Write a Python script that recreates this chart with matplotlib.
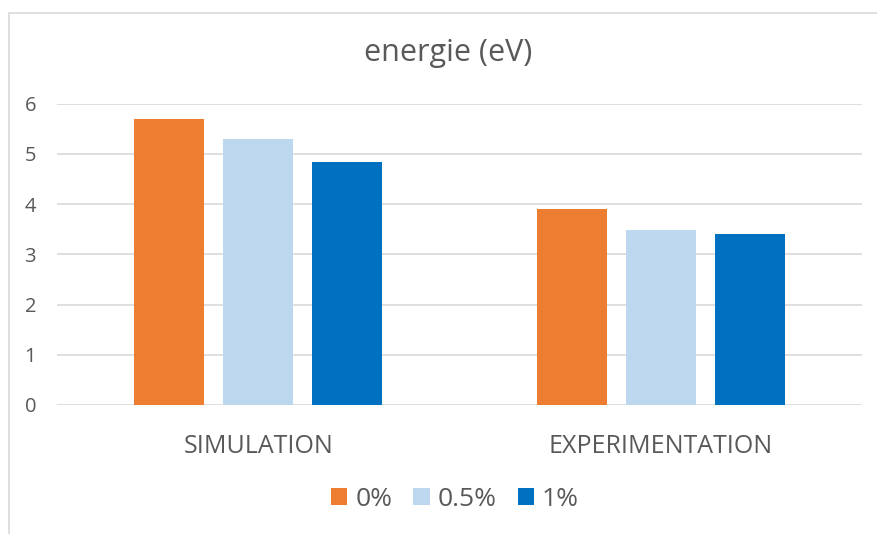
import numpy as np
import matplotlib.pyplot as plt
from matplotlib.patches import Rectangle

categories = ["SIMULATION", "EXPERIMENTATION"]
series_names = ["0%", "0.5%", "1%"]
values_0 = [5.7, 3.9]
values_05 = [5.3, 3.48]
values_1 = [4.83, 3.4]
yticks = [0, 1, 2, 3, 4, 5, 6]

colors = ["#ED7D31", "#BDD7EE", "#0070C0"]
text_color = "#595959"
grid_color = "#D9D9D9"

plt.rcParams['font.family'] = ['Open Sans', 'DejaVu Sans']

fig = plt.figure(figsize=(8.77, 5.34), dpi=100)

# chart frame (only the top and left edges fall inside the image)
fig.patches.append(Rectangle((9 / 877, -0.1), 1.2, (534 - 13) / 534 + 0.1,
                             transform=fig.transFigure, fill=False,
                             edgecolor=grid_color, linewidth=1.2))

ax = fig.add_axes([57 / 877, 129 / 534, 805 / 877, (405 - 103.7) / 534])

x = np.arange(len(categories))
width = 0.174
step = 0.221
for i, (vals, name) in enumerate(zip([values_0, values_05, values_1], series_names)):
    ax.bar(x + (i - 1) * step, vals, width, color=colors[i], label=name, zorder=3)

ax.set_xlim(-0.5, 1.5)
ax.set_ylim(0, 6)
ax.set_yticks(yticks)
ax.grid(axis='y', color=grid_color, linewidth=1.2, zorder=0)
for s in ax.spines.values():
    s.set_visible(False)
ax.tick_params(axis='both', length=0, colors=text_color)
ax.tick_params(axis='y', labelsize=14.5, pad=15)
ax.set_xticks(x)
ax.set_xticklabels(categories, fontsize=18, color=text_color)
ax.tick_params(axis='x', pad=21)

fig.text(448 / 877, 1 - 53 / 534, "energie (eV)", ha='center', va='center',
         fontsize=22, color=text_color)

leg = fig.legend(loc='center', bbox_to_anchor=(455 / 877, 1 - 499 / 534), ncol=3,
                 frameon=False, fontsize=19, handlelength=0.62, handleheight=0.62,
                 handletextpad=0.3, columnspacing=0.8)
for t in leg.get_texts():
    t.set_color(text_color)

fig.savefig("out.png", dpi=100)
